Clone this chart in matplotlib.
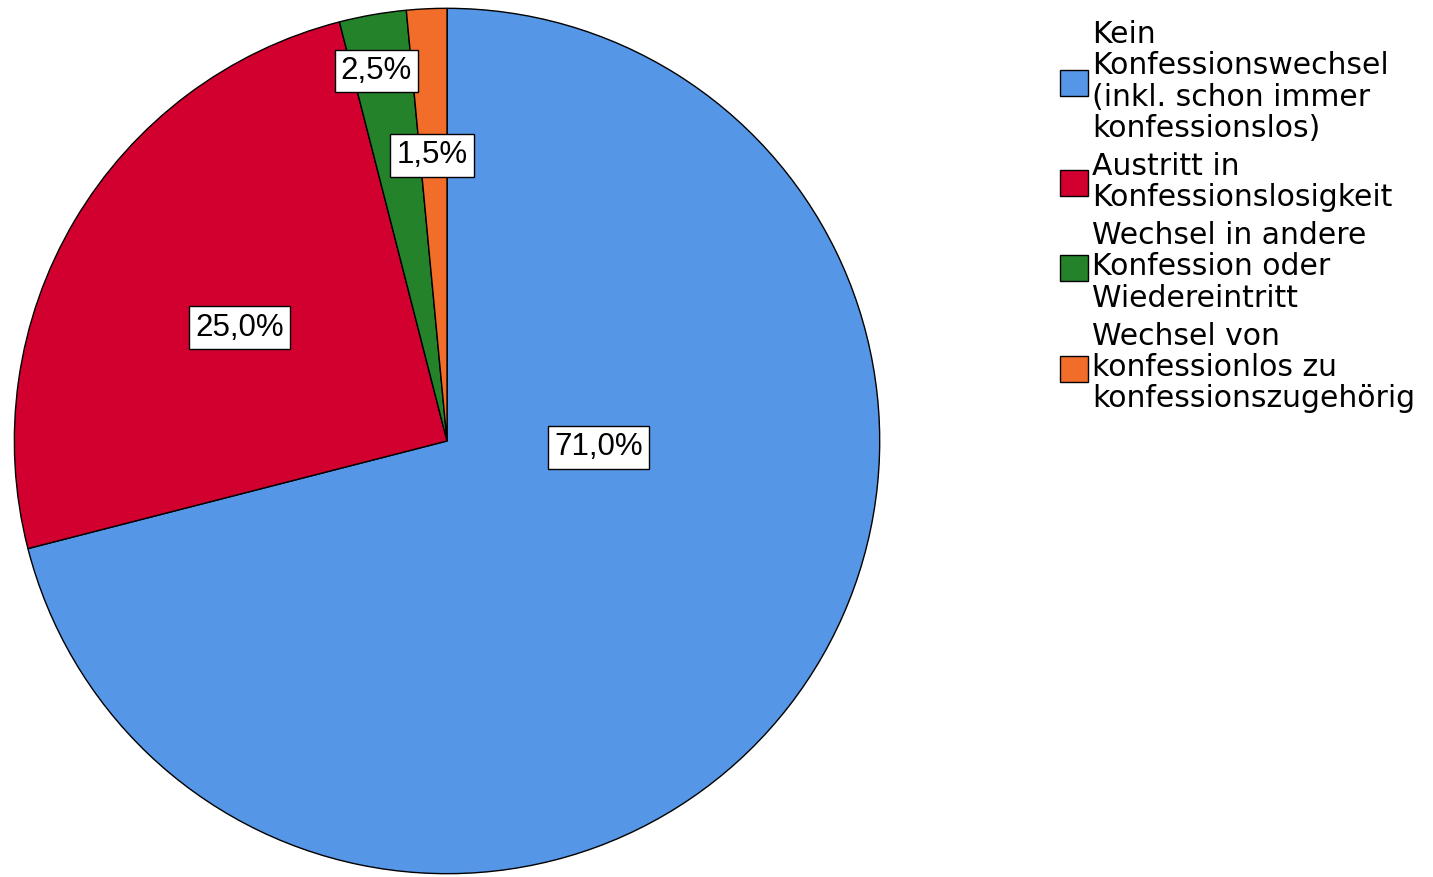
import matplotlib
matplotlib.use("Agg")
import matplotlib.pyplot as plt
from matplotlib.patches import Patch

# Daten
kategorien = [
    "Kein\nKonfessionswechsel\n(inkl. schon immer\nkonfessionslos)",
    "Austritt in\nKonfessionslosigkeit",
    "Wechsel in andere\nKonfession oder\nWiedereintritt",
    "Wechsel von\nkonfessionlos zu\nkonfessionszugehörig",
]
anteile = [71.0, 25.0, 2.5, 1.5]
farben = ["#5596E6", "#D2002E", "#23822A", "#F26C2A"]
beschriftungen = ["71,0%", "25,0%", "2,5%", "1,5%"]
# Lage der Beschriftungen (relativ zum Radius 1)
label_x = [0.35, -0.48, -0.163, -0.035]
label_y = [-0.015, 0.262, 0.855, 0.66]

fig = plt.figure(figsize=(14.33, 8.77), dpi=100)
ax = fig.add_axes([0.0091, 0.0023, 0.6057, 0.9897])

ax.pie(anteile, colors=farben, startangle=90, counterclock=False, radius=1.0,
       wedgeprops=dict(edgecolor="black", linewidth=1.0))
ax.set_xlim(-1.003, 1.003)
ax.set_ylim(-1.003, 1.003)
ax.set_aspect("equal")
ax.axis("off")

for txt, x, y in zip(beschriftungen, label_x, label_y):
    ax.text(x, y, txt, ha="center", va="center", fontsize=22.5,
            family="Liberation Sans", fontweight="medium",
            bbox=dict(boxstyle="square,pad=0.2", facecolor="white",
                      edgecolor="black", linewidth=1.0))

handles = [Patch(facecolor=c, edgecolor="black", linewidth=1.0) for c in farben]
leg = fig.legend(handles, kategorien, loc="upper left",
                 bbox_to_anchor=(1060 / 1433, 1 - 20 / 877),
                 frameon=False, borderpad=0, borderaxespad=0,
                 handlelength=0.95, handleheight=0.95, handletextpad=0.12,
                 labelspacing=0.3,
                 prop=dict(family="DejaVu Sans", size=21.5))
for t in leg.get_texts():
    t.set_linespacing(1.1)

fig.savefig("out.png", dpi=100)
